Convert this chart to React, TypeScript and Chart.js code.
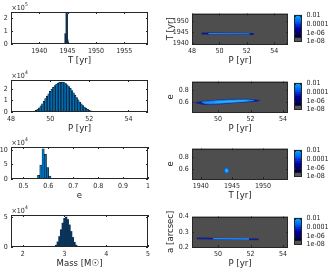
import React, { useEffect, useRef } from 'react';
import { Chart, registerables } from 'chart.js';

Chart.register(...registerables);

const FONT = "'Liberation Sans Narrow', 'DejaVu Sans Condensed', 'Liberation Sans', Arial, sans-serif";
const INK = '#262626';

// ---------- Left column: marginal histograms ----------
const tBinCenters = [1944.45, 1944.55, 1944.65, 1944.75, 1944.85, 1944.95, 1945.05, 1945.15];
const tCounts = [5000, 82000, 76000, 240000, 246000, 236000, 32000, 8000];
const tTicks = [1940, 1945, 1950, 1955];
const tCountTicks = [0, 100000, 200000];

const pBinCenters = [49.04, 49.12, 49.2, 49.28, 49.36, 49.44, 49.52, 49.6, 49.68, 49.76, 49.84, 49.92, 50.0, 50.08, 50.16, 50.24, 50.32, 50.4, 50.48, 50.56, 50.64, 50.72, 50.8, 50.88, 50.96, 51.04, 51.12, 51.2, 51.28, 51.36, 51.44, 51.52, 51.6, 51.68, 51.76, 51.84, 51.92, 52.0, 52.08, 52.16, 52.24, 52.32, 52.4, 52.48];
const pCounts = [150, 350, 800, 1400, 2300, 3600, 5200, 7100, 9200, 11500, 13600, 15700, 17800, 19500, 21200, 22700, 24000, 24900, 25500, 25800, 25700, 25200, 24500, 23300, 21900, 20300, 18500, 16500, 14400, 12400, 10400, 8600, 7000, 5500, 4200, 3100, 2200, 1500, 1000, 600, 350, 200, 100, 50];
const pTicks = [48, 50, 52, 54];
const pCountTicks = [0, 10000, 20000];

const eBinCenters = [0.552, 0.561, 0.57, 0.579, 0.588, 0.597, 0.606, 0.615];
const eCounts = [2000, 13000, 48000, 104000, 85000, 39000, 10000, 1500];
const eTicks = [0.5, 0.6, 0.7, 0.8, 0.9, 1];
const eCountTicks = [0, 50000, 100000];

const mBinCenters = [2.76, 2.8, 2.84, 2.88, 2.92, 2.96, 3.0, 3.04, 3.08, 3.12, 3.16, 3.2, 3.24, 3.28, 3.32];
const mCounts = [800, 3000, 8500, 17500, 29000, 40000, 48000, 50000, 46000, 37000, 26000, 16000, 8000, 3200, 900];
const mTicks = [2, 3, 4, 5];
const mCountTicks = [0, 50000];

// ---------- Right column: 2D densities ----------
const r1DarkP = [48.7, 52.5];
const r1DarkT = [1944.35, 1944.2];
const r1BrightP = [49.2, 52.2];
const r1BrightT = [1944.33, 1944.23];
const r1XTicks = [48, 50, 52, 54];
const r1YTicks = [1940, 1945, 1950];

const r2OuterP = [48.6, 49.0, 49.6, 50.3, 51.0, 51.7, 52.2, 52.55, 52.4, 51.8, 51.0, 50.3, 49.6, 49.0, 48.6];
const r2OuterE = [0.598, 0.615, 0.63, 0.642, 0.649, 0.65, 0.644, 0.632, 0.62, 0.609, 0.596, 0.58, 0.568, 0.572, 0.598];
const r2InnerP = [49.0, 49.6, 50.3, 51.0, 51.7, 52.2, 52.0, 51.3, 50.5, 49.8, 49.2, 49.0];
const r2InnerE = [0.606, 0.623, 0.635, 0.64, 0.641, 0.634, 0.623, 0.609, 0.594, 0.579, 0.583, 0.606];
const r2CoreP = [49.8, 50.5, 51.3, 51.8, 51.0, 50.2, 49.8];
const r2CoreE = [0.602, 0.622, 0.63, 0.628, 0.613, 0.6, 0.602];
const r2XTicks = [50, 52, 54];
const eAxisTicks = [0.6, 0.8];

const r3OuterT = [1944.15, 1944.42, 1944.53, 1944.42, 1944.15, 1943.88, 1943.77, 1943.88, 1944.15];
const r3OuterE = [0.628, 0.615, 0.583, 0.551, 0.538, 0.551, 0.583, 0.615, 0.628];
const r3InnerT = [1944.15, 1944.33, 1944.4, 1944.33, 1944.15, 1943.97, 1943.9, 1943.97, 1944.15];
const r3InnerE = [0.613, 0.604, 0.583, 0.562, 0.553, 0.562, 0.583, 0.604, 0.613];
const r3XTicks = [1940, 1945, 1950];

const r4DarkP = [48.7, 52.5];
const r4DarkA = [0.257, 0.25];
const r4BrightP = [49.7, 51.9];
const r4BrightA = [0.2555, 0.2525];
const r4XTicks = [50, 52, 54];
const r4YTicks = [0.2, 0.3, 0.4];

// ---------- Colorbar ----------
const cbLow = [1e-8, 5.6e-8, 1e-7, 3e-7, 1e-6, 3e-6, 1e-5, 3e-5, 1e-4, 3e-4, 1e-3, 3e-3];
const cbHigh = [5.6e-8, 1e-7, 3e-7, 1e-6, 3e-6, 1e-5, 3e-5, 1e-4, 3e-4, 1e-3, 3e-3, 1.6e-2];
const cbColors = ['#555555', '#00002e', '#000048', '#000064', '#000082', '#0000a0', '#0012c2', '#0030dc', '#0050f0', '#006cff', '#0088ff', '#00a4ff'];
const cbTickValues = [1e-8, 1e-6, 1e-4, 1e-2];
const cbTickLabels = ['1e-08', '1e-06', '0.0001', '0.01'];

// ---------- layout ----------
const ROW_TOPS = [12, 80, 147, 215];
const AREA_H = 32;

const boxPlugin = {
  id: 'matBox',
  beforeDatasetsDraw(chart: any, _a: any, opts: any) {
    if (!opts || !opts.bg) return;
    const a = chart.chartArea;
    const ctx = chart.ctx;
    ctx.save();
    ctx.fillStyle = opts.bg;
    ctx.fillRect(a.left, a.top, a.right - a.left, a.bottom - a.top);
    ctx.restore();
  },
  afterDraw(chart: any, _a: any, opts: any) {
    const { ctx, chartArea: a } = chart;
    const L = 2;
    ctx.save();
    ctx.strokeStyle = (opts && opts.color) || INK;
    ctx.lineWidth = 1;
    ctx.beginPath();
    const xs = chart.scales.x;
    if (xs && xs.options.display !== false) {
      for (const t of xs.ticks) {
        const p = Math.round(xs.getPixelForValue(t.value)) + 0.5;
        ctx.moveTo(p, a.bottom); ctx.lineTo(p, a.bottom - L);
        ctx.moveTo(p, a.top); ctx.lineTo(p, a.top + L);
      }
    }
    const ys = chart.scales.y;
    if (ys) {
      for (const t of ys.ticks) {
        const p = Math.round(ys.getPixelForValue(t.value)) + 0.5;
        ctx.moveTo(a.left, p); ctx.lineTo(a.left + L, p);
        ctx.moveTo(a.right, p); ctx.lineTo(a.right - L, p);
      }
    }
    ctx.stroke();
    ctx.strokeRect(Math.round(a.left) + 0.5, Math.round(a.top) + 0.5, Math.round(a.right - a.left) - 1, Math.round(a.bottom - a.top) - 1);
    ctx.restore();
  },
};

const expPlugin = {
  id: 'expLabel',
  afterDraw(chart: any, _a: any, opts: any) {
    if (!opts || !opts.exp) return;
    const { ctx, chartArea: a } = chart;
    ctx.save();
    ctx.fillStyle = INK;
    ctx.textBaseline = 'alphabetic';
    ctx.textAlign = 'left';
    ctx.font = `7px ${FONT}`;
    const x = a.left + 0.5;
    const y = a.top - 2.5;
    ctx.fillText('×10', x, y);
    const w = ctx.measureText('×10').width;
    ctx.font = `5px ${FONT}`;
    ctx.fillText(opts.exp, x + w + 0.3, y - 4);
    ctx.restore();
  },
};

const tickFont = { size: 7, family: FONT };
const titleFont = { size: 9.5, family: FONT };

function xAxis(min: number, max: number, ticks: number[], title: string) {
  return {
    type: 'linear', position: 'bottom', min, max, offset: false,
    grid: { display: false, drawTicks: false }, border: { display: false },
    ticks: { autoSkip: false, maxRotation: 0, minRotation: 0, padding: 2.8, color: INK, font: tickFont,
      callback: (v: number) => String(v) },
    afterBuildTicks: (s: any) => { s.ticks = ticks.map((v) => ({ value: v })); },
    afterFit: (s: any) => { s.height = 24; },
    title: { display: true, text: title, color: INK, font: titleFont, padding: { top: 0, bottom: 1.3 } },
  };
}

function yAxis(min: number, max: number, ticks: number[], width: number, fmt: (v: number) => string, title?: string) {
  const ax: any = {
    type: 'linear', position: 'left', min, max,
    grid: { display: false, drawTicks: false }, border: { display: false },
    ticks: { autoSkip: false, padding: 3.3, color: INK, font: tickFont, callback: (v: number) => fmt(v) },
    afterBuildTicks: (s: any) => { s.ticks = ticks.map((v) => ({ value: v })); },
    afterFit: (s: any) => { s.width = width; },
  };
  if (title) ax.title = { display: true, text: title, color: INK, font: titleFont, padding: { top: 5.3, bottom: 0 } };
  return ax;
}

const baseOpts = {
  responsive: false, animation: false, devicePixelRatio: 1, events: [],
};

function histConfig(xs: number[], ys: number[], xMin: number, xMax: number, xTicks: number[], yMax: number, yTicks: number[], div: number, exp: string, title: string, fill: string, border: string, bw: number) {
  return {
    type: 'bar',
    data: { datasets: [{ data: xs.map((x, i) => ({ x, y: ys[i] })), backgroundColor: fill, borderColor: border, borderWidth: bw, barPercentage: 1, categoryPercentage: 1 }] },
    options: {
      ...baseOpts,
      layout: { padding: { left: 0, right: 12, top: 12, bottom: 0 } },
      plugins: { legend: { display: false }, tooltip: { enabled: false }, expLabel: { exp }, matBox: {} },
      scales: {
        x: xAxis(xMin, xMax, xTicks, title),
        y: yAxis(0, yMax, yTicks, 11, (v) => String(Math.round(v / div))),
      },
    },
    plugins: [boxPlugin, expPlugin],
  };
}

const pts = (xs: number[], ys: number[]) => xs.map((x, i) => ({ x, y: ys[i] }));

function lineDs(xs: number[], ys: number[], color: string, width: number) {
  return { data: pts(xs, ys), showLine: true, borderColor: color, borderWidth: width, pointRadius: 0, fill: false, tension: 0 };
}
function polyDs(xs: number[], ys: number[], color: string) {
  return { data: pts(xs, ys), showLine: true, borderColor: color, borderWidth: 0.6, backgroundColor: color, pointRadius: 0, fill: 'shape', tension: 0.35 };
}

function densityConfig(datasets: any[], x: any, y: any) {
  return {
    type: 'scatter',
    data: { datasets },
    options: {
      ...baseOpts,
      layout: { padding: { left: 0, right: 4, top: 6, bottom: 0 } },
      plugins: { legend: { display: false }, tooltip: { enabled: false }, matBox: { bg: '#4e4e4e' } },
      scales: { x, y },
    },
    plugins: [boxPlugin],
  };
}

function colorbarConfig() {
  return {
    type: 'bar',
    data: {
      labels: [''],
      datasets: cbLow.map((lo, i) => ({ data: [[lo, cbHigh[i]]], backgroundColor: cbColors[i], borderWidth: 0, barPercentage: 1, categoryPercentage: 1, grouped: false })),
    },
    options: {
      ...baseOpts,
      layout: { padding: { left: 4, right: 0, top: 6, bottom: 6 } },
      plugins: { legend: { display: false }, tooltip: { enabled: false }, matBox: {} },
      scales: {
        x: { display: false },
        y: {
          type: 'logarithmic', position: 'right', min: 1e-8, max: 1.6e-2,
          grid: { display: false, drawTicks: false }, border: { display: false },
          ticks: { autoSkip: false, padding: 4.5, color: INK, font: tickFont,
            callback: (v: number) => { const k = cbTickValues.findIndex((t) => Math.abs(Math.log10(t) - Math.log10(v)) < 1e-6); return k >= 0 ? cbTickLabels[k] : ''; } },
          afterBuildTicks: (s: any) => { s.ticks = cbTickValues.map((v) => ({ value: v })); },
          afterFit: (s: any) => { s.width = 28; },
        },
      },
    },
    plugins: [boxPlugin],
  };
}

function ChartCanvas({ left, top, width, height, make }: { left: number; top: number; width: number; height: number; make: () => any }) {
  const ref = useRef<HTMLCanvasElement>(null);
  useEffect(() => {
    const c = new Chart(ref.current as HTMLCanvasElement, make());
    return () => c.destroy();
  }, []);
  return <canvas ref={ref} width={width} height={height} style={{ position: 'absolute', left, top, width, height }} />;
}

export default function App() {
  const L = (row: number, make: () => any) => (
    <ChartCanvas key={'L' + row} left={0} top={ROW_TOPS[row] - 12} width={160} height={12 + AREA_H + 24} make={make} />
  );
  const R = (row: number, make: () => any) => (
    <ChartCanvas key={'R' + row} left={160} top={ROW_TOPS[row] - 6} width={132} height={6 + AREA_H + 24} make={make} />
  );
  const CB = (row: number) => (
    <ChartCanvas key={'C' + row} left={290} top={ROW_TOPS[row] - 6} width={40} height={6 + AREA_H + 6} make={colorbarConfig} />
  );
  return (
    <div style={{ position: 'fixed', left: 0, top: 0, width: 330, height: 272, background: '#ffffff', overflow: 'hidden' }}>
      {L(0, () => histConfig(tBinCenters, tCounts, 1935, 1959.2, tTicks, 250000, tCountTicks, 1e5, '5', 'T [yr]', '#112c48', '#112c48', 0))}
      {L(1, () => histConfig(pBinCenters, pCounts, 48, 55, pTicks, 27500, pCountTicks, 1e4, '4', 'P [yr]', '#0072BD', '#000000', 0.5))}
      {L(2, () => histConfig(eBinCenters, eCounts, 0.45, 1, eTicks, 110000, eCountTicks, 1e4, '4', 'e', '#0072BD', '#000000', 0.5))}
      {L(3, () => histConfig(mBinCenters, mCounts, 1.72, 5, mTicks, 53500, mCountTicks, 1e4, '4', 'Mass [M☉]', '#0b3358', '#0b3358', 0))}
      {R(0, () => densityConfig(
        [lineDs(r1BrightP, r1BrightT, '#1f86ea', 1.3), lineDs(r1DarkP, r1DarkT, '#0a1c8c', 2)],
        xAxis(48, 55, r1XTicks, 'P [yr]'),
        yAxis(1939.6, 1953.5, r1YTicks, 32, (v) => String(v), 'T [yr]')))}
      {R(1, () => densityConfig(
        [polyDs(r2CoreP, r2CoreE, '#2aaeff'), polyDs(r2InnerP, r2InnerE, '#1a8cf4'), polyDs(r2OuterP, r2OuterE, '#0b2098')],
        xAxis(48.4, 54.3, r2XTicks, 'P [yr]'),
        yAxis(0.45, 0.93, eAxisTicks, 32, (v) => String(v), 'e')))}
      {R(2, () => densityConfig(
        [polyDs(r3InnerT, r3InnerE, '#22a6ff'), polyDs(r3OuterT, r3OuterE, '#0a55d5')],
        xAxis(1938.6, 1954, r3XTicks, 'T [yr]'),
        yAxis(0.45, 0.93, eAxisTicks, 32, (v) => String(v), 'e')))}
      {R(3, () => densityConfig(
        [lineDs(r4BrightP, r4BrightA, '#1e90ff', 1.3), lineDs(r4DarkP, r4DarkA, '#10208a', 1.8)],
        xAxis(48.4, 54.3, r4XTicks, 'P [yr]'),
        yAxis(0.2, 0.4, r4YTicks, 32, (v) => String(v), 'a [arcsec]')))}
      {CB(0)}{CB(1)}{CB(2)}{CB(3)}
    </div>
  );
}
